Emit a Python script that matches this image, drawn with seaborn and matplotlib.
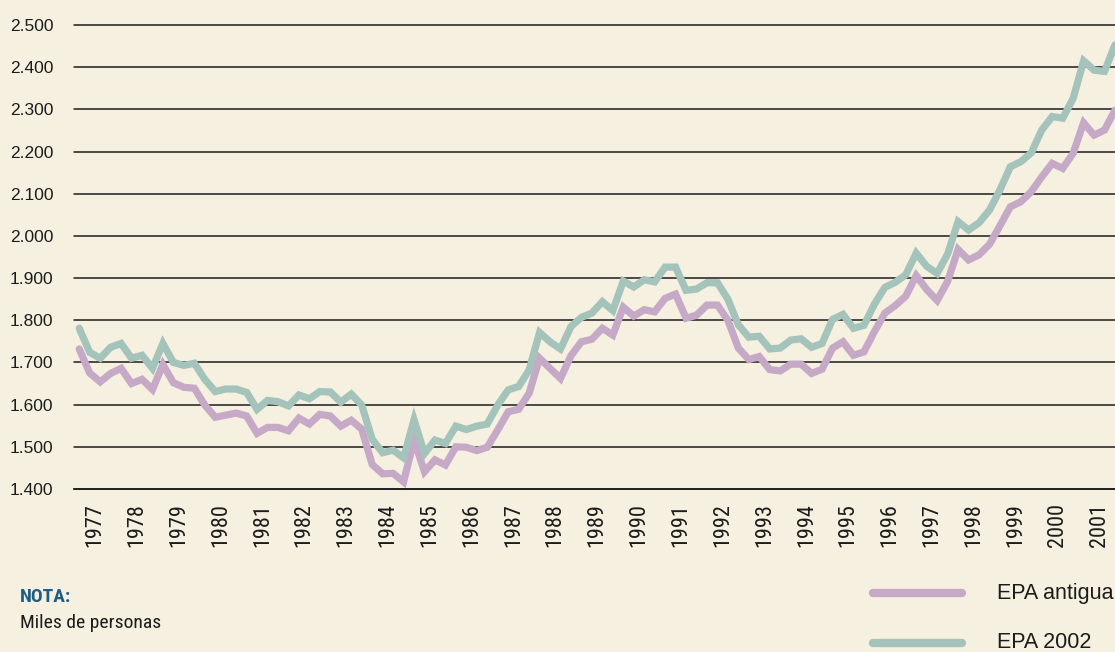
import matplotlib
matplotlib.use("Agg")
import matplotlib.pyplot as plt
from matplotlib import font_manager
from matplotlib.lines import Line2D
import pandas as pd
import seaborn as sns

# Ocupados trimestrales (miles de personas), serie antigua y serie EPA 2002
years = list(range(1977, 2002))
quarters = [1, 2, 3, 4]

epa_antigua = [
    1732, 1675, 1654, 1674,   # 1977
    1686, 1650, 1660, 1636,   # 1978
    1695, 1652, 1641, 1639,   # 1979
    1599, 1570, 1575, 1580,   # 1980
    1573, 1532, 1546, 1546,   # 1981
    1538, 1568, 1554, 1577,   # 1982
    1573, 1549, 1563, 1542,   # 1983
    1458, 1436, 1437, 1417,   # 1984
    1516, 1441, 1469, 1457,   # 1985
    1500, 1499, 1491, 1499,   # 1986
    1540, 1583, 1589, 1627,   # 1987
    1710, 1686, 1662, 1716,   # 1988
    1749, 1755, 1781, 1765,   # 1989
    1831, 1810, 1825, 1820,   # 1990
    1852, 1862, 1805, 1812,   # 1991
    1836, 1836, 1800, 1734,   # 1992
    1707, 1714, 1683, 1680,   # 1993
    1696, 1696, 1674, 1684,   # 1994
    1734, 1749, 1717, 1725,   # 1995
    1773, 1817, 1835, 1857,   # 1996
    1906, 1873, 1847, 1892,   # 1997
    1968, 1943, 1955, 1980,   # 1998
    2024, 2069, 2081, 2105,   # 1999
    2140, 2172, 2160, 2196,   # 2000
    2268, 2239, 2251, 2298,   # 2001
]

epa_2002 = [
    1781, 1724, 1710, 1736,   # 1977
    1745, 1710, 1717, 1686,   # 1978
    1745, 1700, 1693, 1698,   # 1979
    1660, 1631, 1637, 1637,   # 1980
    1629, 1589, 1610, 1607,   # 1981
    1597, 1623, 1614, 1631,   # 1982
    1630, 1606, 1625, 1599,   # 1983
    1518, 1486, 1492, 1474,   # 1984
    1564, 1484, 1516, 1508,   # 1985
    1549, 1541, 1549, 1554,   # 1986
    1599, 1635, 1643, 1682,   # 1987
    1771, 1749, 1732, 1785,   # 1988
    1807, 1817, 1844, 1823,   # 1989
    1893, 1879, 1896, 1891,   # 1990
    1926, 1926, 1871, 1874,   # 1991
    1889, 1889, 1850, 1789,   # 1992
    1760, 1762, 1732, 1734,   # 1993
    1753, 1756, 1736, 1745,   # 1994
    1802, 1814, 1781, 1788,   # 1995
    1838, 1878, 1890, 1908,   # 1996
    1959, 1928, 1911, 1957,   # 1997
    2034, 2014, 2031, 2061,   # 1998
    2109, 2164, 2176, 2197,   # 1999
    2251, 2283, 2279, 2326,   # 2000
    2415, 2393, 2390, 2453,   # 2001
]

series_names = ["EPA antigua", "EPA 2002"]
y_ticks = [1400, 1500, 1600, 1700, 1800, 1900, 2000, 2100, 2200, 2300, 2400, 2500]
y_tick_labels = ["1.400", "1.500", "1.600", "1.700", "1.800", "1.900",
                 "2.000", "2.100", "2.200", "2.300", "2.400", "2.500"]
note_title = "NOTA:"
note_text = "Miles de personas"

BG = "#f5f0df"
COLORS = {"EPA antigua": "#c5a9c7", "EPA 2002": "#a3c3bb"}
INK = "#1c1c1c"


def first_family(*names):
    for name in names:
        try:
            font_manager.findfont(font_manager.FontProperties(family=name),
                                  fallback_to_default=False)
            return name
        except Exception:
            continue
    return "DejaVu Sans"


sns.set_style("white")
base_font = first_family("Liberation Sans", "Arial", "DejaVu Sans")
narrow_font = first_family("Liberation Sans Narrow", "Roboto Condensed", base_font)
plt.rcParams["font.family"] = [base_font, "DejaVu Sans"]

# long-format table: one row per quarter and series
periods = [y + (q - 0.5) / 4 for y in years for q in quarters]
df = pd.DataFrame({
    "periodo": periods * 2,
    "ocupados": epa_antigua + epa_2002,
    "serie": [series_names[0]] * len(periods) + [series_names[1]] * len(periods),
})

W, H = 1115, 652
fig = plt.figure(figsize=(W / 100, H / 100), dpi=100, facecolor=BG)
ax = fig.add_axes([74 / W, 1 - 489 / H, 1 - 74 / W, (489 - 25) / H])
ax.set_facecolor(BG)

sns.lineplot(data=df, x="periodo", y="ocupados", hue="serie",
             hue_order=series_names, palette=COLORS, linewidth=5.2,
             legend=False, ax=ax, solid_joinstyle="miter", zorder=3)

ax.set_xlim(years[0], years[-1] + 0.875)
ax.set_ylim(y_ticks[0], y_ticks[-1])

# horizontal rules
ax.set_yticks(y_ticks)
ax.set_yticklabels(y_tick_labels)
ax.yaxis.grid(True, color=INK, linewidth=1.1)
for gl in ax.get_ygridlines():
    gl.set_clip_on(False)
ax.set_axisbelow(True)
ax.tick_params(axis="y", length=0, pad=15, labelsize=12.5, labelcolor=INK)

# year boundaries as ticks, year labels centred between them
ax.set_xticks(years)
ax.set_xticklabels([])
ax.set_xticks([y + 0.5 for y in years], minor=True)
ax.set_xticklabels([str(y) for y in years], minor=True, rotation=90,
                   fontsize=16, family=narrow_font, color=INK, va="top")
ax.tick_params(axis="x", which="major", length=7.5, width=1.2, color=INK,
               direction="out")
ax.tick_params(axis="x", which="minor", length=0, pad=10)

ax.set_xlabel("")
ax.set_ylabel("")
for side in ("top", "right", "left"):
    ax.spines[side].set_visible(False)
ax.spines["bottom"].set_color(INK)
ax.spines["bottom"].set_linewidth(1.2)

# note below the chart
fig.text(20 / W, 1 - 597 / H, note_title, fontsize=14, fontweight="bold",
         color="#1f5d84", va="center", ha="left", family=narrow_font)
fig.text(20 / W, 1 - 623 / H, note_text, fontsize=14, color=INK,
         va="center", ha="left", family=narrow_font)

# legend keys
for name, yc in zip(series_names, (593, 643)):
    fig.add_artist(Line2D([873 / W, 962 / W], [1 - yc / H, 1 - yc / H],
                          transform=fig.transFigure, color=COLORS[name],
                          linewidth=6, solid_capstyle="round"))
    fig.text(997 / W, 1 - yc / H, name, fontsize=15.5, color=INK,
             va="center", ha="left")

fig.savefig("out.png", dpi=100, facecolor=BG)
